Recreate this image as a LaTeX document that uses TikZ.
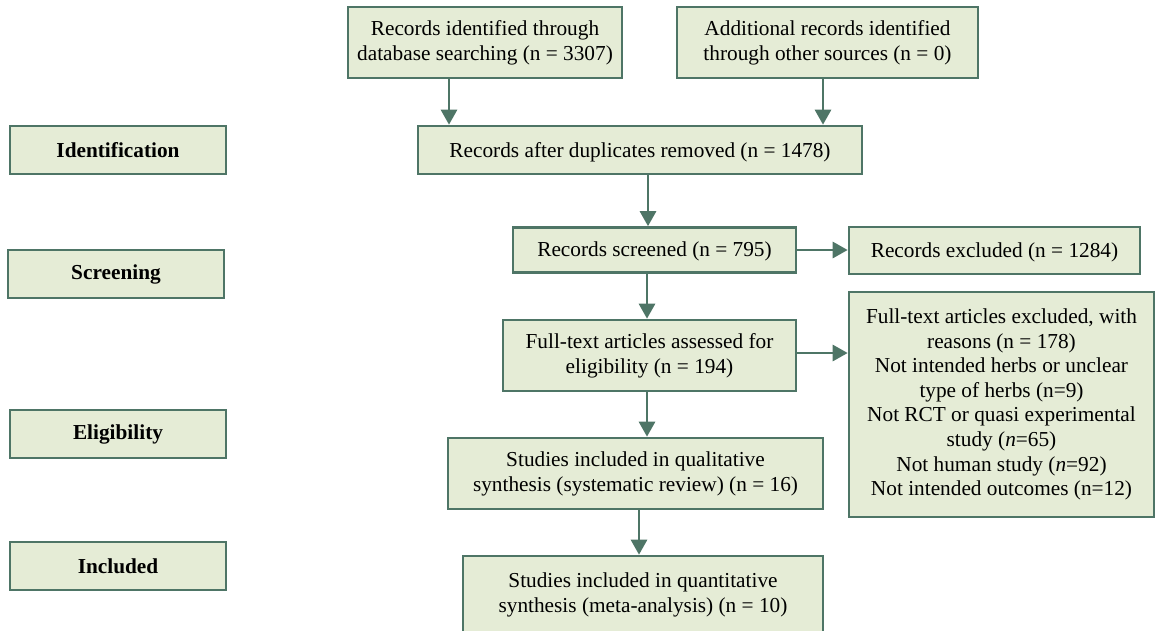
\documentclass[tikz,border=0pt]{standalone}
\usepackage{fontspec}
\setmainfont{Liberation Serif}
\usetikzlibrary{arrows.meta}
\definecolor{boxfill}{HTML}{E5ECD6}
\definecolor{boxline}{HTML}{4E7566}
\tikzset{
  box/.style={draw=boxline, fill=boxfill, line width=2.6pt, align=center, inner sep=0pt,
    font=\fontsize{21.3}{25}\selectfont},
  lower/.style={execute at begin node={\rule{0pt}{#1}}},
  stagebox/.style={box, font=\fontsize{21.3}{25}\selectfont\bfseries, minimum width=216pt, minimum height=48pt},
  arr/.style={draw=boxline, line width=2.8pt, -{Triangle[length=15pt,width=16pt]}}
}
\begin{document}
\begin{tikzpicture}[x=1pt,y=-1pt]
\useasboundingbox (0,0) rectangle (1156,630);
\begin{scope}
\clip (0,0) rectangle (1156,630);
% main flow
\node[box, lower=21pt, minimum width=274pt, minimum height=71pt] (A) at (485,42.5) {Records identified through\\database searching (n = 3307)};
\node[box, lower=20.5pt, minimum width=301pt, minimum height=71pt] (B) at (827.5,42.5) {Additional records identified\\through other sources (n = 0)};
\node[box, lower=20.5pt, minimum width=444pt, minimum height=48pt] (C) at (640,150) {Records after duplicates removed (n = 1478)};
\node[box, lower=18.5pt, minimum width=283pt, minimum height=45pt] (D) at (654.5,250) {Records screened (n = 795)};
\node[box, lower=18.5pt, minimum width=291pt, minimum height=47pt] (E) at (994.5,250.5) {Records excluded (n = 1284)};
\node[box, lower=18pt, minimum width=293pt, minimum height=71pt] (F) at (649.5,355.5) {Full-text articles assessed for\\eligibility (n = 194)};
\node[box, font=\fontsize{21.3}{24.6}\selectfont, minimum width=305pt, minimum height=225pt] (G) at (1001.5,404.5) {Full-text articles excluded, with\\reasons (n = 178)\\Not intended herbs or unclear\\type of herbs (n=9)\\Not RCT or quasi experimental\\study (\textit{n}=65)\\Not human study (\textit{n}=92)\\Not intended outcomes (n=12)};
\node[box, lower=19pt, minimum width=375pt, minimum height=71pt] (H) at (635.5,473.5) {Studies included in qualitative\\synthesis (systematic review) (n = 16)};
\node[box, minimum width=360pt, minimum height=77pt] (I) at (643,594.5) {Studies included in quantitative\\synthesis (meta-analysis) (n = 10)};
% stage labels
\node[stagebox] (S1) at (118,150) {Identification};
\node[stagebox] (S2) at (116,274) {Screening};
\node[stagebox] (S3) at (118,434) {Eligibility};
\node[stagebox] (S4) at (118,566) {Included};
% connectors
\draw[arr] (A.south -| 449,0) -- (C.north -| 449,0);
\draw[arr] (B.south -| 823,0) -- (C.north -| 823,0);
\draw[arr] (C.south -| 648,0) -- (D.north -| 648,0);
\draw[arr] (D.south -| 647,0) -- (F.north -| 647,0);
\draw[arr] (F.south -| 647,0) -- (H.north -| 647,0);
\draw[arr] (H.south -| 639,0) -- (I.north -| 639,0);
\draw[arr] (D.east |- 0,250) -- (E.west |- 0,250);
\draw[arr] (F.east |- 0,353) -- (G.west |- 0,353);
\end{scope}
\end{tikzpicture}
\end{document}
